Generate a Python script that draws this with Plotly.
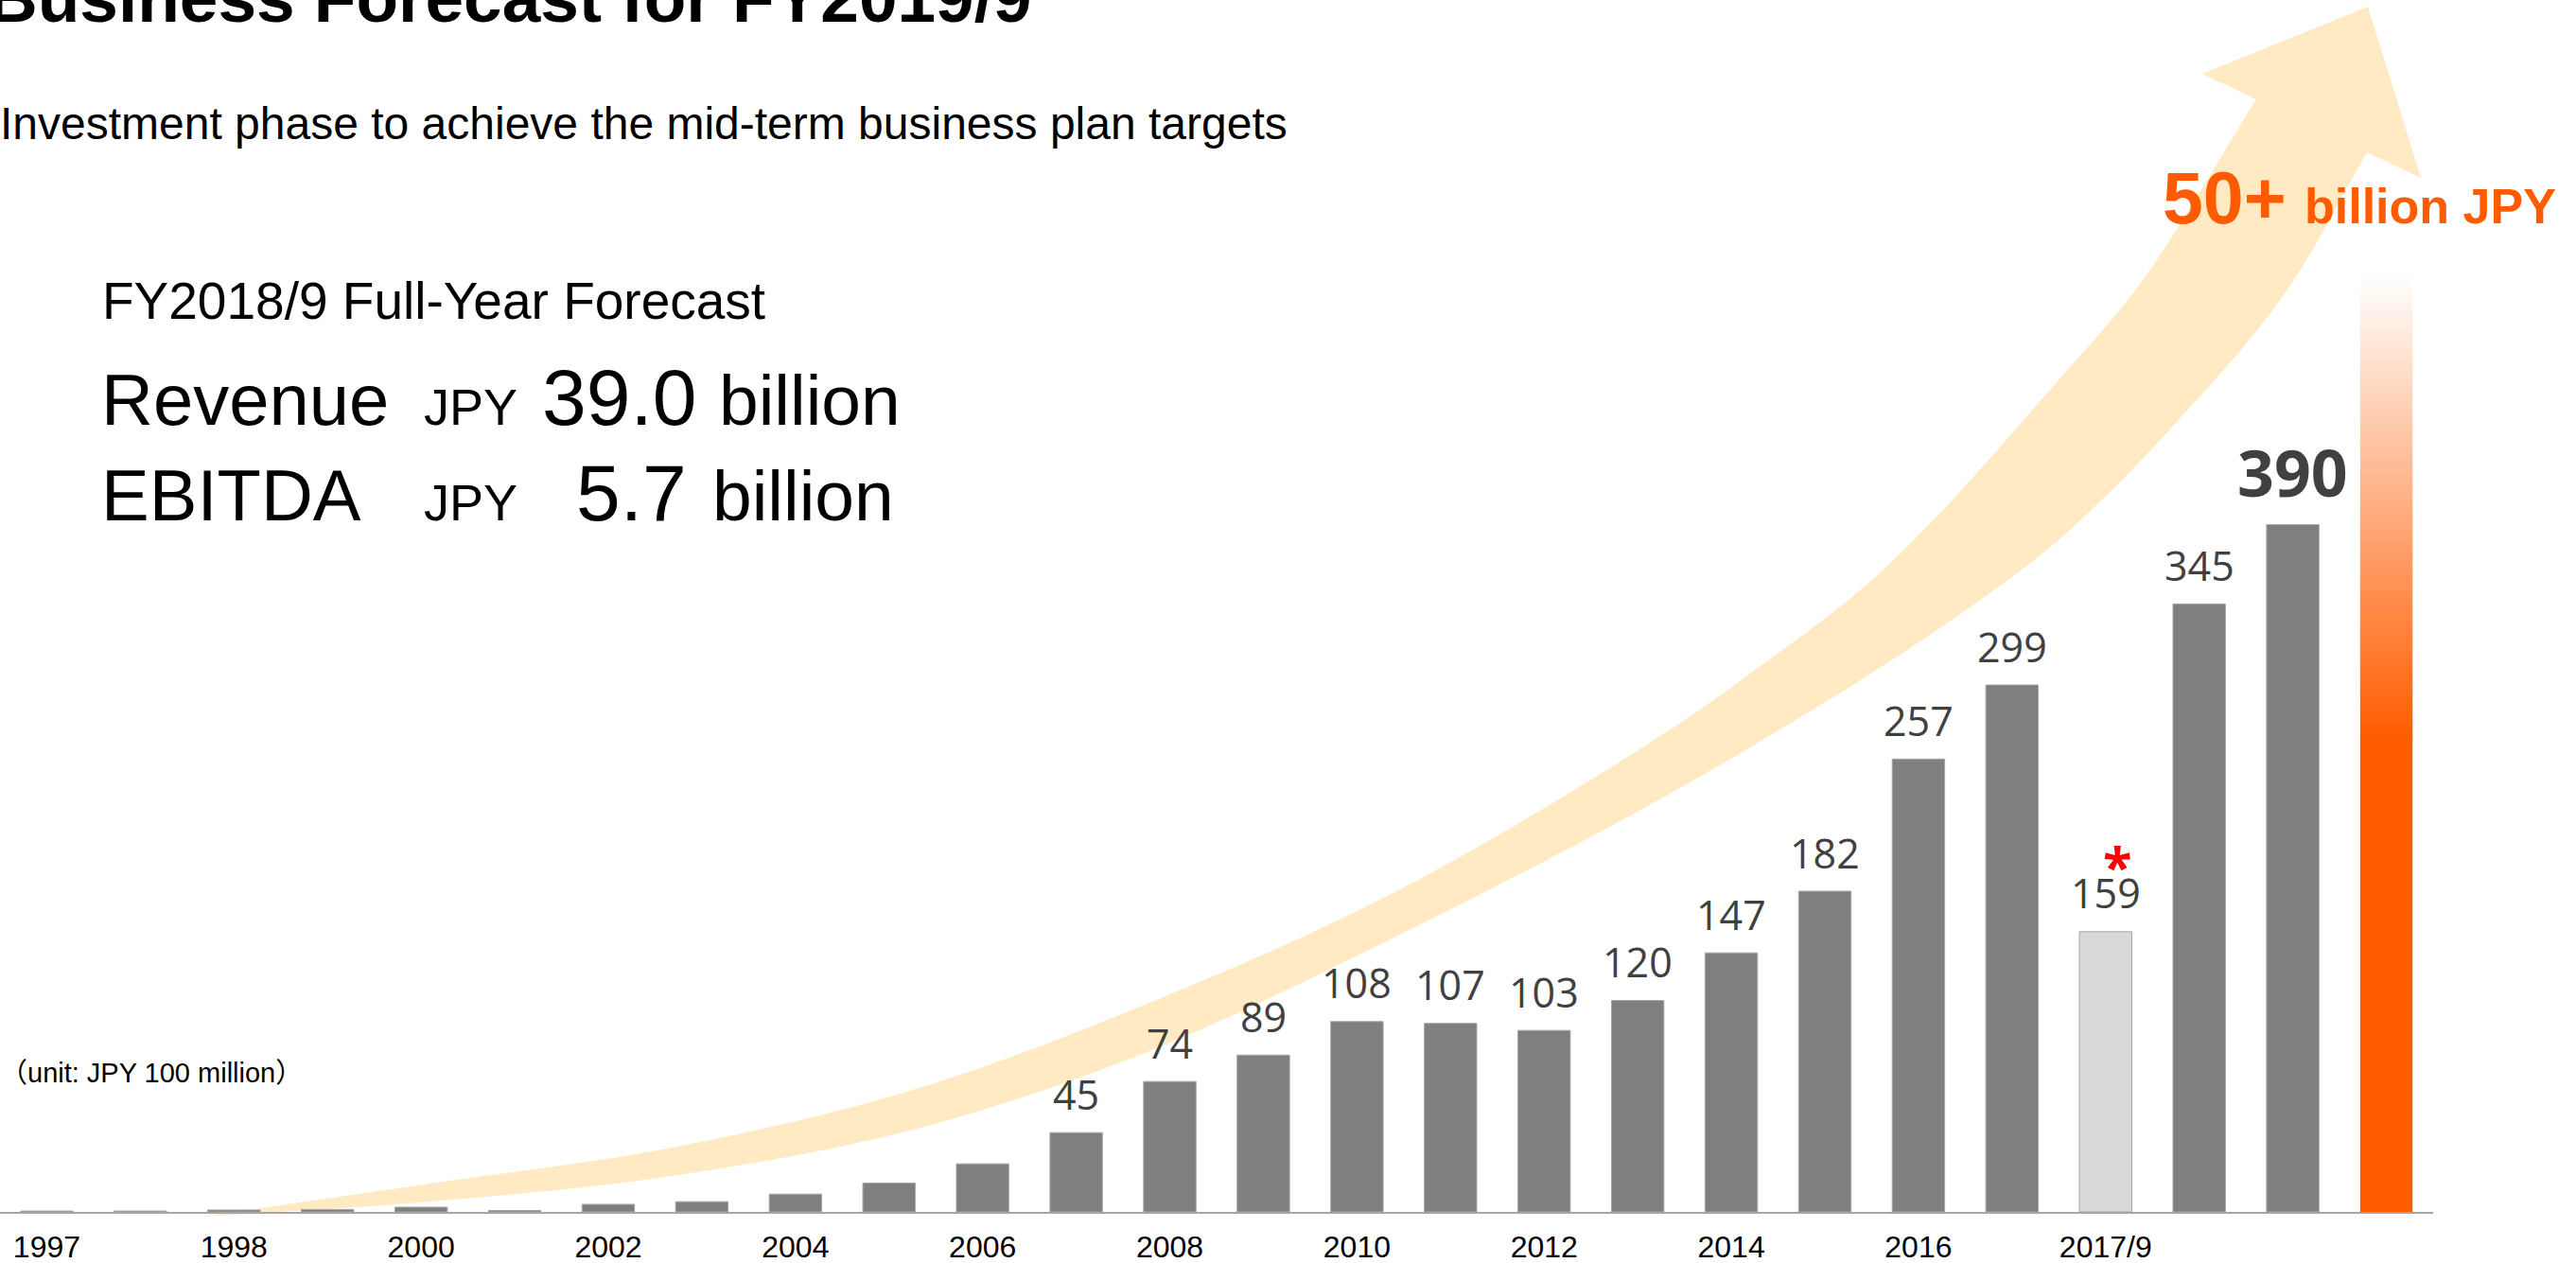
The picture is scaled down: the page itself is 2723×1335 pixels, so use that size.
import numpy as np
import plotly.graph_objects as go

# ---- data (revenue, JPY 100 million) ----
tick_labels = ["1997", "", "1998", "", "2000", "", "2002", "", "2004", "", "2006", "",
               "2008", "", "2010", "", "2012", "", "2014", "", "2016", "", "2017/9", "", "", ""]
revenue = [0.5, 0.5, 1.1, 1.4, 2.7, 0.8, 4.3, 5.8, 10.1, 16.4, 27.3, 45, 74, 89,
           108, 107, 103, 120, 147, 182, 257, 299, 159, 345, 390]
first_labelled = 11          # bars from this index carry a value label
partial_period = 22          # 9-month transitional period (2017/9)
target_billion = 50          # mid-term target, "50+ billion JPY"
forecast_revenue = "39.0"
forecast_ebitda = "5.7"

# ---- page geometry ----
W, H = 2723, 1335
ML, MR, MT, MB = 0, 151, 0, 54
PW, PH = W - ML - MR, H - MT - MB
PX_PER_UNIT = 1.8627
Y_TOP = PH / PX_PER_UNIT

GRAY, LIGHT, ORANGE, LABEL = "#7F7F7F", "#D9D9D9", "#FF5B00", "#404040"
SANS = "Liberation Sans, Arial, sans-serif"
NUM = "Open Sans, Noto Sans, sans-serif"


def px(xp):
    return xp / PW


def py(yp):
    return 1 - yp / PH


def text_at(text, x_px, baseline_px, size, family=SANS, color="#000000",
            bold=False, anchor="left", desc=0.212):
    return dict(text=text, xref="paper", yref="paper", x=px(x_px),
                y=py(baseline_px + desc * size), xanchor=anchor, yanchor="bottom",
                showarrow=False, borderpad=0, borderwidth=0,
                font=dict(size=size, family=family, color=color,
                          weight="bold" if bold else "normal"))


fig = go.Figure()

# ---- revenue bars ----
idx = list(range(len(revenue)))
colors = [LIGHT if i == partial_period else GRAY for i in idx]
fig.add_bar(x=idx, y=revenue, width=0.56, hoverinfo="skip",
            marker=dict(color=colors, line=dict(color="#A6A6A6", width=1)))

# ---- target column: solid orange fading out to white ----
target_x = len(revenue)
solid_top, fade_top, nseg = 267, 532, 90
seg = (fade_top - solid_top) / nseg
bases = [0.0] + [solid_top + k * seg for k in range(nseg)]
heights = [solid_top + 0.5] + [seg * 1.15] * nseg
seg_colors = [ORANGE]
o = np.array([255, 91, 0], float)
for k in range(nseg):
    t = (k + 0.5) / nseg
    c = o + t * (255 - o)
    seg_colors.append("rgb(%d,%d,%d)" % tuple(np.round(c)))
fig.add_bar(x=[target_x] * len(bases), y=heights, base=bases, width=0.56,
            hoverinfo="skip", marker=dict(color=seg_colors, line=dict(width=0)))

# ---- growth arrow (drawn behind the bars) ----
upper = [(213, 1286), (455, 1251), (710, 1213), (965, 1152), (1200, 1066),
         (1480, 940), (1761, 774), (1850, 712), (1993, 600), (2182, 395),
         (2265, 296), (2385, 105)]
lower = [(213, 1286), (455, 1270), (710, 1243), (965, 1194), (1200, 1117),
         (1435, 1010), (1850, 790), (2140, 600), (2200, 549), (2300, 447),
         (2422, 300), (2502, 161)]
head = [(2328, 78), (2503, 7), (2559, 188)]


def hermite(points, n=24):
    """Smooth monotone curve y(x) through the given points."""
    p = np.array(points, float)
    x, y = p[:, 0], p[:, 1]
    d = np.diff(y) / np.diff(x)
    m = np.empty(len(x))
    m[0], m[-1] = d[0], d[-1]
    m[1:-1] = (d[:-1] + d[1:]) / 2
    out = []
    for k in range(len(x) - 1):
        h = x[k + 1] - x[k]
        for t in np.linspace(0, 1, n, endpoint=False):
            h00 = 2 * t ** 3 - 3 * t ** 2 + 1
            h10 = t ** 3 - 2 * t ** 2 + t
            h01 = -2 * t ** 3 + 3 * t ** 2
            h11 = t ** 3 - t ** 2
            out.append((x[k] + t * h,
                        h00 * y[k] + h10 * h * m[k] + h01 * y[k + 1] + h11 * h * m[k + 1]))
    out.append((x[-1], y[-1]))
    return out


outline = hermite(upper) + head + hermite(lower)[::-1]
path = "M " + " L ".join("%.5f,%.5f" % (px(a), py(b)) for a, b in outline) + " Z"
shapes = [dict(type="path", path=path, xref="paper", yref="paper",
               fillcolor="#FFEAC4", line=dict(width=0), layer="below")]

# ---- value labels ----
ann = []
for i in range(first_labelled, len(revenue)):
    big = i == len(revenue) - 1
    size = 68 if big else 43
    gap = 29 if big else 24
    ann.append(dict(text=str(revenue[i]), x=i, y=revenue[i], xref="x", yref="y",
                    xanchor="center", yanchor="bottom", showarrow=False,
                    yshift=gap - 0.293 * size, borderpad=0, borderwidth=0,
                    font=dict(size=size, family=NUM, color=LABEL,
                              weight="bold" if big else "normal")))
# note mark on the transitional period
ann.append(dict(text="*", x=partial_period, y=revenue[partial_period], xref="x",
                yref="y", xanchor="center", yanchor="bottom", showarrow=False,
                xshift=13, yshift=983 - 934 - 0.293 * 56, borderpad=0, borderwidth=0,
                font=dict(size=56, family=NUM, color="#FF0000", weight="bold")))

# ---- headings and forecast text ----
ann += [
    text_at("Business Forecast for FY2019/9", -13, 23, 73, bold=True),
    text_at("Investment phase to achieve the mid-term business plan targets", 0, 147, 48),
    text_at("FY2018/9 Full-Year Forecast", 108, 337, 55),
    text_at("Revenue", 107, 449, 76),
    text_at("JPY", 448, 449, 54),
    text_at(forecast_revenue, 573, 449, 84),
    text_at("billion", 760, 449, 75),
    text_at("EBITDA", 107, 550, 76),
    text_at("JPY", 448, 550, 54),
    text_at(forecast_ebitda, 609, 550, 84),
    text_at("billion", 753, 550, 75),
    text_at("（unit: JPY 100 million）", 0, 1144, 29,
            family="Liberation Sans, Arial, Noto Sans CJK JP, sans-serif"),
    text_at("%d+" % target_billion, 2286, 236, 77, color=ORANGE, bold=True),
    text_at("billion JPY", 2436, 236, 52, color=ORANGE, bold=True),
]

tickvals = [i for i, t in enumerate(tick_labels) if t]
ticktext = [t for t in tick_labels if t]

fig.update_layout(
    width=W, height=H, margin=dict(l=ML, r=MR, t=MT, b=MB, pad=0),
    paper_bgcolor="white", plot_bgcolor="white", barmode="overlay",
    showlegend=False, shapes=shapes, annotations=ann,
    xaxis=dict(range=[-0.5, len(tick_labels) - 0.5], tickvals=tickvals,
               ticktext=ticktext, showline=True, linecolor="#A6A6A6", linewidth=2,
               ticks="", ticklen=0, showgrid=False, zeroline=False,
               tickfont=dict(family=SANS, size=32, color="#000000"),
               ticklabelstandoff=8, automargin=False, fixedrange=True),
    yaxis=dict(range=[0, Y_TOP], visible=False, fixedrange=True, automargin=False),
)

fig.write_html("out.html")
